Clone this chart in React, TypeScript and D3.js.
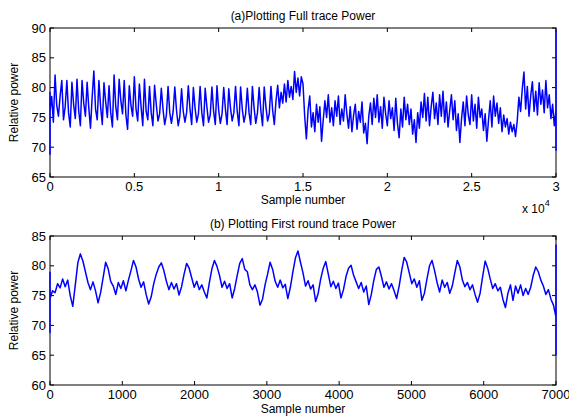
import React from "react";
import * as d3 from "d3";

// (a) full trace, one value every 100 samples
const fullHead = [79.3, 68.8]; // vertical jump at sample 0
const fullStep = 100;
const fullValues = [
  76, 78.5, 74.2, 82.1, 77, 75.2, 78.6, 81.2, 74.6, 76.8,
  81.2, 75.8, 73.4, 80.9, 77.2, 74.8, 81.4, 76.2, 73.6, 81.2,
  77.4, 75.2, 80.9, 76.6, 73.2, 78.4, 82.8, 76.4, 74.6, 81.2,
  76.8, 73.8, 80.8, 77.6, 75, 80.3, 75.8, 73.4, 82.1, 76.8,
  74.6, 81.4, 77.8, 75.6, 81.2, 75.4, 73, 80.3, 77, 75.2,
  81.8, 76.4, 74.4, 80.6, 76.8, 73.6, 81.4, 76, 74.6, 80.2,
  75.8, 73.6, 80.4, 77.2, 74.4, 75.6, 79.9, 76.4, 73.8, 75.4,
  80.2, 75.8, 74, 76, 80.1, 76.2, 73.6, 75.2, 79.8, 76,
  74.2, 75.8, 80.3, 76.4, 73.8, 80, 76.6, 74.2, 75.6, 80.2,
  75.8, 73.6, 79.9, 76.8, 74.2, 75.4, 80.1, 76, 73.8, 80.3,
  76.2, 74, 75.6, 80, 76.4, 73.8, 79.8, 76.6, 74.4, 75.8,
  80.2, 76, 73.6, 80.1, 76.4, 74.2, 75.6, 79.9, 75.8, 73.8,
  80.2, 76.6, 74, 75.8, 80, 76.2, 73.6, 80.1, 76.8, 74.4,
  75.6, 80.2, 76.2, 73.8, 77.8, 80.4, 76.6, 79.2, 77.4, 80.6,
  77.6, 81.2, 78.4, 80.2, 78, 82.7, 79.2, 81.6, 78.6, 81.8,
  80.6, 75.2, 71.4, 76.2, 78.6, 73.4, 75.8, 72.6, 77.2, 74.2,
  76.8, 71, 74.6, 77.8, 75, 78.8, 74.2, 76.6, 73.6, 77.8,
  75.2, 78.6, 73.8, 76.4, 74.4, 78.8, 75.6, 73.2, 76.8, 72.6,
  75.4, 77.2, 73, 76, 74.2, 77.6, 72.4, 74, 70.6, 75.2,
  77.4, 73.8, 78.2, 75, 78.8, 74.2, 76.8, 73.2, 78.4, 75.6,
  73.6, 77.8, 74.8, 76.6, 72.8, 78.2, 74, 71.6, 76.4, 73.4,
  78.4, 74.6, 77.2, 73.8, 76.4, 72.2, 74.6, 70.8, 75.8, 73.2,
  77.6, 75, 79, 74.4, 78.4, 73.6, 76.8, 79.2, 74.8, 77.4,
  73.8, 78.8, 75.2, 79.4, 74.2, 77.6, 73.4, 76.2, 78.8, 74.6,
  77.8, 72.8, 75.6, 70.8, 74.8, 77.6, 73.6, 78.6, 75.4, 73.8,
  78.8, 74.4, 77.2, 73.2, 78.4, 75, 76.4, 72.8, 75.6, 71,
  74.6, 77.8, 73.4, 78.6, 75.2, 77.4, 74, 76.6, 72.6, 75.4,
  73.4, 74.8, 72.2, 74.2, 72.6, 73.8, 71.8, 74.4, 78.4, 76,
  79.8, 82.6, 76.4, 80.2, 75.2, 78.6, 81, 76, 79.4, 75.4,
  80.8, 77.2, 79.6, 75.8, 81.2, 76.6, 78.8, 74.8, 77.2, 73.6,
  76.4,
];
const fullTail = [89.6, 69.4]; // vertical jump at the last sample

// (b) first round, one value every 35 samples
const roundHead = [79, 68.8];
const roundStep = 35;
const roundValues = [
  74.5, 75.8, 75.5, 77, 76.3, 77.8, 76.5, 77.6, 75, 73.2,
  76.8, 80.5, 82, 80.8, 79, 77.2, 76, 77.3, 75.8, 73.8,
  75.5, 78, 80.6, 79.5, 77.4, 76.6, 75.2, 77.2, 76.2, 77.5,
  75.8, 77.6, 79.2, 80.9, 79.8, 77.8, 76.4, 77.3, 75.2, 73.6,
  74.8, 77, 78.6, 79.8, 80.5, 79.2, 77.4, 76, 77.2, 76.1,
  77, 75.1, 76.5, 78.6, 80.4, 79.6, 78, 76.4, 77.4, 76,
  76.8, 75.6, 74.6, 77.2, 79.5, 80.9, 79.9, 78.4, 76.4, 77.4,
  76.2, 77, 74.6, 76.2, 78.4, 80.4, 81.2, 79.4, 79, 76.8,
  76, 76.8, 75.6, 73.4, 74.4, 76.8, 78.6, 80.6, 79.4, 77.4,
  76.4, 77.6, 76.3, 76.9, 74.5, 76.4, 79, 81.3, 82.5, 80.6,
  78.8, 76.6, 77.5, 76.1, 76.8, 74, 75.4, 77.8, 79.6, 80.7,
  78.6, 76.5, 77.4, 76.2, 77.1, 74.6, 76, 78.2, 79.6, 80.1,
  78.4, 77.3, 76.2, 77.2, 75.6, 76.6, 73.5, 75.2, 77.6, 79.4,
  79.8, 78.2, 76.4, 77.3, 76.1, 77, 75.8, 74.5, 76.6, 79.2,
  81.4, 80.6, 78.8, 77, 77.8, 76.4, 77.5, 74.2, 75.4, 77.8,
  80, 80.9, 79.2, 77.2, 75.6, 77.6, 76.4, 77.2, 75.4, 76.6,
  78.8, 80.9, 79.8, 77.6, 76.5, 77.2, 76, 76.8, 75.2, 73.9,
  75.4, 78.2, 80.8, 79.6, 77.8, 76.2, 77, 75.8, 76.4, 74.4,
  73, 75.4, 76.8, 74.2, 76.6, 75.4, 76.8, 75, 76.2, 75.2,
  76.4, 78.4, 79.8, 79, 77.6, 76.6, 75.2, 76, 74.4, 73.4,
  71.4,
];
const roundTail = [83.5, 65];

const fullXTicks = [0, 5000, 10000, 15000, 20000, 25000, 30000];
const fullYTicks = [65, 70, 75, 80, 85, 90];
const roundXTicks = [0, 1000, 2000, 3000, 4000, 5000, 6000, 7000];
const roundYTicks = [60, 65, 70, 75, 80, 85];

const FONT = "'Liberation Sans', Arial, Helvetica, sans-serif";
const LEFT = 50;
const RIGHT = 556;
const TICK = 4;

type Pt = [number, number];

function buildPoints(head: number[], step: number, values: number[], tail: number[]): Pt[] {
  const last = (values.length - 1) * step;
  return [
    ...head.map((v) => [0, v] as Pt),
    ...values.map((v, i) => [i * step, v] as Pt),
    ...tail.map((v) => [last, v] as Pt),
  ];
}

type PanelProps = {
  top: number;
  bottom: number;
  xDomain: [number, number];
  yDomain: [number, number];
  xTicks: number[];
  yTicks: number[];
  xFormat: (d: number) => string;
  points: Pt[];
  title: string;
};

function Panel({ top, bottom, xDomain, yDomain, xTicks, yTicks, xFormat, points, title }: PanelProps) {
  const x = d3.scaleLinear().domain(xDomain).range([LEFT, RIGHT]);
  const y = d3.scaleLinear().domain(yDomain).range([bottom, top]);
  const line = d3
    .line<Pt>()
    .x((d) => x(d[0]))
    .y((d) => y(d[1]));
  const mid = (top + bottom) / 2;

  return (
    <g>
      <text x={303} y={top - 8} textAnchor="middle" fontSize={12}>
        {title}
      </text>
      {/* box */}
      <rect x={LEFT} y={top} width={RIGHT - LEFT} height={bottom - top} fill="none" stroke="#000" strokeWidth={1} />
      {xTicks.map((t) => (
        <g key={"x" + t}>
          <line x1={x(t)} x2={x(t)} y1={bottom} y2={bottom - TICK} stroke="#000" />
          <line x1={x(t)} x2={x(t)} y1={top} y2={top + TICK} stroke="#000" />
          <text x={x(t)} y={bottom + 14} textAnchor="middle" fontSize={13}>
            {xFormat(t)}
          </text>
        </g>
      ))}
      {yTicks.map((t) => (
        <g key={"y" + t}>
          <line x1={LEFT} x2={LEFT + TICK} y1={y(t)} y2={y(t)} stroke="#000" />
          <line x1={RIGHT} x2={RIGHT - TICK} y1={y(t)} y2={y(t)} stroke="#000" />
          <text x={46} y={y(t)} dy="0.36em" textAnchor="end" fontSize={13}>
            {t}
          </text>
        </g>
      ))}
      {/* trace drawn over the box so the edge jumps stay blue */}
      <path d={line(points) || ""} fill="none" stroke="#0000ff" strokeWidth={1.5} strokeLinejoin="round" />
      <text transform={`translate(18,${mid}) rotate(-90)`} textAnchor="middle" fontSize={12}>
        Relative power
      </text>
    </g>
  );
}

export default function App() {
  const fullPoints = buildPoints(fullHead, fullStep, fullValues, fullTail);
  const roundPoints = buildPoints(roundHead, roundStep, roundValues, roundTail);

  return (
    <svg
      width={569}
      height={416}
      style={{ position: "absolute", left: 0, top: 0, background: "#fff" }}
      fontFamily={FONT}
    >
      <Panel
        top={28}
        bottom={177}
        xDomain={[0, 30000]}
        yDomain={[65, 90]}
        xTicks={fullXTicks}
        yTicks={fullYTicks}
        xFormat={(d) => String(d / 10000)}
        points={fullPoints}
        title="(a)Plotting Full trace Power"
      />
      <text x={303} y={204} textAnchor="middle" fontSize={12}>
        Sample number
      </text>
      <text x={522} y={213} fontSize={12}>
        x 10
        <tspan dy={-7} fontSize={9}>4</tspan>
      </text>
      <Panel
        top={236}
        bottom={385}
        xDomain={[0, 7000]}
        yDomain={[60, 85]}
        xTicks={roundXTicks}
        yTicks={roundYTicks}
        xFormat={(d) => String(d)}
        points={roundPoints}
        title="(b) Plotting First round trace Power"
      />
      <text x={303} y={413} textAnchor="middle" fontSize={12}>
        Sample number
      </text>
    </svg>
  );
}
